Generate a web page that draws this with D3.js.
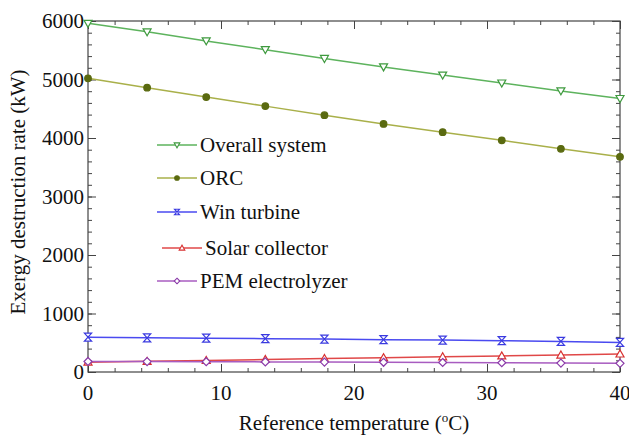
<!DOCTYPE html>
<html>
<head>
<meta charset="utf-8">
<script src="https://cdn.jsdelivr.net/npm/d3@7"></script>
<style>
  body { margin: 0; background: #fff; }
</style>
</head>
<body>
<svg id="chart" width="629" height="436" font-family="Liberation Serif, Times New Roman, serif"></svg>
<script>
// reference temperature points (deg C)
var temps = [0, 4.444, 8.889, 13.333, 17.778, 22.222, 26.667, 31.111, 35.556, 40];

// exergy destruction rates (kW)
var overall = [5960, 5815, 5660, 5510, 5360, 5215, 5075, 4940, 4805, 4675];
var orc     = [5020, 4860, 4700, 4545, 4390, 4240, 4100, 3960, 3815, 3678];
var wind    = [595, 585, 578, 570, 562, 553, 545, 535, 522, 505];
var solar   = [168, 182, 198, 214, 230, 245, 260, 275, 290, 308];
var pem     = [180, 178, 176, 173, 170, 166, 162, 158, 153, 148];

var xTicks = [0, 10, 20, 30, 40];
var yTicks = [0, 1000, 2000, 3000, 4000, 5000, 6000];

var series = [
  { name: "Overall system",   values: overall, line: "#5db35d", mark: "#3f9a3f", shape: "tridown", fill: "#fff" },
  { name: "ORC",              values: orc,     line: "#a9b04a", mark: "#5a6a10", shape: "circle",  fill: "#5a6a10" },
  { name: "Win turbine",      values: wind,    line: "#4a4af0", mark: "#3a3ae0", shape: "hourglass", fill: "#fff" },
  { name: "Solar collector",  values: solar,   line: "#e04848", mark: "#d83030", shape: "triup",   fill: "#fff" },
  { name: "PEM electrolyzer", values: pem,     line: "#a85cc0", mark: "#8a3aa8", shape: "diamond", fill: "#fff" }
];

var svg = d3.select("#chart");
var pLeft = 88, pRight = 620, pTop = 21, pBottom = 372;

var x = d3.scaleLinear().domain([0, 40]).range([pLeft, pRight]);
var y = d3.scaleLinear().domain([0, 6000]).range([pBottom, pTop]);

var axisColor = "#444";

// inner ticks on all four sides
function drawAxis(axis, tr) {
  var g = svg.append("g").attr("transform", tr).call(axis);
  g.select(".domain").remove();
  g.selectAll("line").attr("stroke", axisColor).attr("stroke-width", 1);
  g.selectAll("text").remove();
  return g;
}
var xMinor = d3.range(0, 40.01, 2);
var yMinor = d3.range(0, 6000.1, 200);
drawAxis(d3.axisBottom(x).tickValues(xMinor).tickSize(-4), "translate(0," + pBottom + ")");
drawAxis(d3.axisBottom(x).tickValues(xTicks).tickSize(-8), "translate(0," + pBottom + ")");
drawAxis(d3.axisTop(x).tickValues(xMinor).tickSize(-4), "translate(0," + pTop + ")");
drawAxis(d3.axisTop(x).tickValues(xTicks).tickSize(-8), "translate(0," + pTop + ")");
drawAxis(d3.axisLeft(y).tickValues(yMinor).tickSize(-4), "translate(" + pLeft + ",0)");
drawAxis(d3.axisLeft(y).tickValues(yTicks).tickSize(-8), "translate(" + pLeft + ",0)");
drawAxis(d3.axisRight(y).tickValues(yMinor).tickSize(-4), "translate(" + pRight + ",0)");
drawAxis(d3.axisRight(y).tickValues(yTicks).tickSize(-8), "translate(" + pRight + ",0)");

svg.append("rect")
  .attr("x", pLeft).attr("y", pTop)
  .attr("width", pRight - pLeft).attr("height", pBottom - pTop)
  .attr("fill", "none").attr("stroke", axisColor).attr("stroke-width", 1.2);

// tick labels
svg.append("g").selectAll("text").data(xTicks).join("text")
  .attr("x", function(d){ return x(d); })
  .attr("y", 400)
  .attr("text-anchor", "middle")
  .attr("font-size", 21)
  .attr("fill", "#111")
  .text(function(d){ return d; });

svg.append("g").selectAll("text").data(yTicks).join("text")
  .attr("x", 84)
  .attr("y", function(d){ return y(d) + 7; })
  .attr("text-anchor", "end")
  .attr("font-size", 21)
  .attr("fill", "#111")
  .text(function(d){ return d; });

// axis titles
var xt = svg.append("text")
  .attr("x", 354).attr("y", 430)
  .attr("text-anchor", "middle")
  .attr("font-size", 21)
  .attr("fill", "#111");
xt.append("tspan").text("Reference temperature (");
xt.append("tspan").attr("font-size", 13).attr("dy", -8).text("o");
xt.append("tspan").attr("dy", 8).text("C)");

svg.append("text")
  .attr("transform", "translate(25,192) rotate(-90)")
  .attr("text-anchor", "middle")
  .attr("font-size", 21)
  .attr("fill", "#111")
  .text("Exergy destruction rate (kW)");

// marker drawing
function marker(g, shape, cx, cy, k) {
  var p;
  if (shape === "circle") {
    return g.append("circle").attr("cx", cx).attr("cy", cy).attr("r", 3.3 * k);
  }
  var a = 4 * k;
  if (shape === "tridown") p = [[cx - a, cy - a * 0.75], [cx + a, cy - a * 0.75], [cx, cy + a]];
  if (shape === "triup") p = [[cx - a, cy + a * 0.75], [cx + a, cy + a * 0.75], [cx, cy - a]];
  if (shape === "diamond") p = [[cx, cy - a], [cx + a, cy], [cx, cy + a], [cx - a, cy]];
  if (shape === "hourglass") p = [[cx - a * 0.9, cy - a], [cx + a * 0.9, cy - a], [cx - a * 0.9, cy + a], [cx + a * 0.9, cy + a]];
  return g.append("polygon").attr("points", p.map(function(q){ return q.join(","); }).join(" "));
}

var line = d3.line()
  .x(function(d, i){ return x(temps[i]); })
  .y(function(d){ return y(d); });

series.forEach(function(s) {
  var g = svg.append("g");
  g.append("path")
    .attr("d", line(s.values))
    .attr("fill", "none")
    .attr("stroke", s.line)
    .attr("stroke-width", 1.5);
  s.values.forEach(function(v, i) {
    marker(g, s.shape, x(temps[i]), y(v), 1)
      .attr("fill", s.fill)
      .attr("stroke", s.mark)
      .attr("stroke-width", 1.2);
  });
});

// legend
var legendRows = [145, 178, 212, 248, 281];
var legendX = [[157, 197, 200], [157, 197, 200], [157, 197, 200], [162, 202, 205], [157, 197, 200]];
series.forEach(function(s, i) {
  var g = svg.append("g");
  var ly = legendRows[i], lx = legendX[i];
  g.append("line")
    .attr("x1", lx[0]).attr("x2", lx[1])
    .attr("y1", ly).attr("y2", ly)
    .attr("stroke", s.line).attr("stroke-width", 1.5);
  marker(g, s.shape, (lx[0] + lx[1]) / 2, ly, 0.7)
    .attr("fill", s.fill)
    .attr("stroke", s.mark)
    .attr("stroke-width", 1.1);
  g.append("text")
    .attr("x", lx[2]).attr("y", ly + 7)
    .attr("font-size", 21)
    .attr("fill", "#111")
    .text(s.name);
});
</script>
</body>
</html>
